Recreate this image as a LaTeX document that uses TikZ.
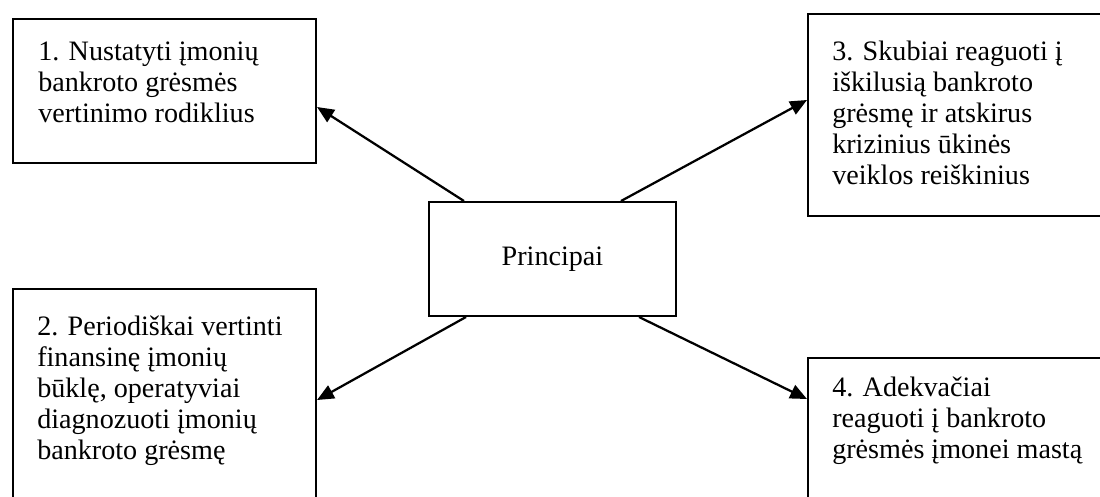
\documentclass[tikz,border=0pt]{standalone}
\usepackage{fontspec}
\setmainfont{Liberation Serif}
\usetikzlibrary{arrows.meta,positioning}

\begin{document}
\begin{tikzpicture}[
  x=0.025cm, y=-0.025cm,
  >={Triangle[length=0.42cm,width=0.36cm]},
  every node/.style={font=\fontsize{20}{22}\selectfont},
  box/.style={draw, line width=1.4pt, inner sep=0pt, anchor=north west, minimum width=7.575cm},
  txt/.style={anchor=north west, align=left, inner sep=0pt},
  hub/.style={draw, line width=1.4pt, minimum width=6.175cm, minimum height=2.85cm},
  link/.style={->, line width=1.6pt}
]
\useasboundingbox (0,0) rectangle (1100,496);
% boxes
\node[box, minimum height=3.6cm] (rodikliai) at (12,18) {};
\node[box, minimum height=5.55cm] (vertinimas) at (12,288) {};
\node[box, minimum height=5.05cm] (reagavimas) at (807,13) {};
\node[box, minimum height=3.825cm] (mastas) at (807,357) {};
\node[hub] (principai) at (552.5,259) {Principai};
% texts
\node[txt] (rodikliaiT) at ([shift={(26,24)}]rodikliai.north west) {1. Nustatyti įmonių\\bankroto grėsmės\\vertinimo rodiklius};
\node[txt] (vertinimasT) at ([shift={(25,28)}]vertinimas.north west) {2. Periodiškai vertinti\\finansinę įmonių\\būklę, operatyviai\\diagnozuoti įmonių\\bankroto grėsmę};
\node[txt] (reagavimasT) at ([shift={(25,28)}]reagavimas.north west) {3. Skubiai reaguoti į\\iškilusią bankroto\\grėsmę ir atskirus\\krizinius ūkinės\\veiklos reiškinius};
\node[txt] (mastasT) at ([shift={(25,20)}]mastas.north west) {4. Adekvačiai\\reaguoti į bankroto\\grėsmės įmonei mastą};
% arrows
\draw[link] ([shift={(36,0)}]principai.north west) -- ([shift={(0,-57)}]rodikliai.south east);
\draw[link] ([shift={(-56,0)}]principai.north east) -- ([shift={(0,87)}]reagavimas.north west);
\draw[link] ([shift={(38,0)}]principai.south west) -- ([shift={(0,112)}]vertinimas.north east);
\draw[link] ([shift={(-38,0)}]principai.south east) -- ([shift={(0,42)}]mastas.north west);
\end{tikzpicture}
\end{document}
